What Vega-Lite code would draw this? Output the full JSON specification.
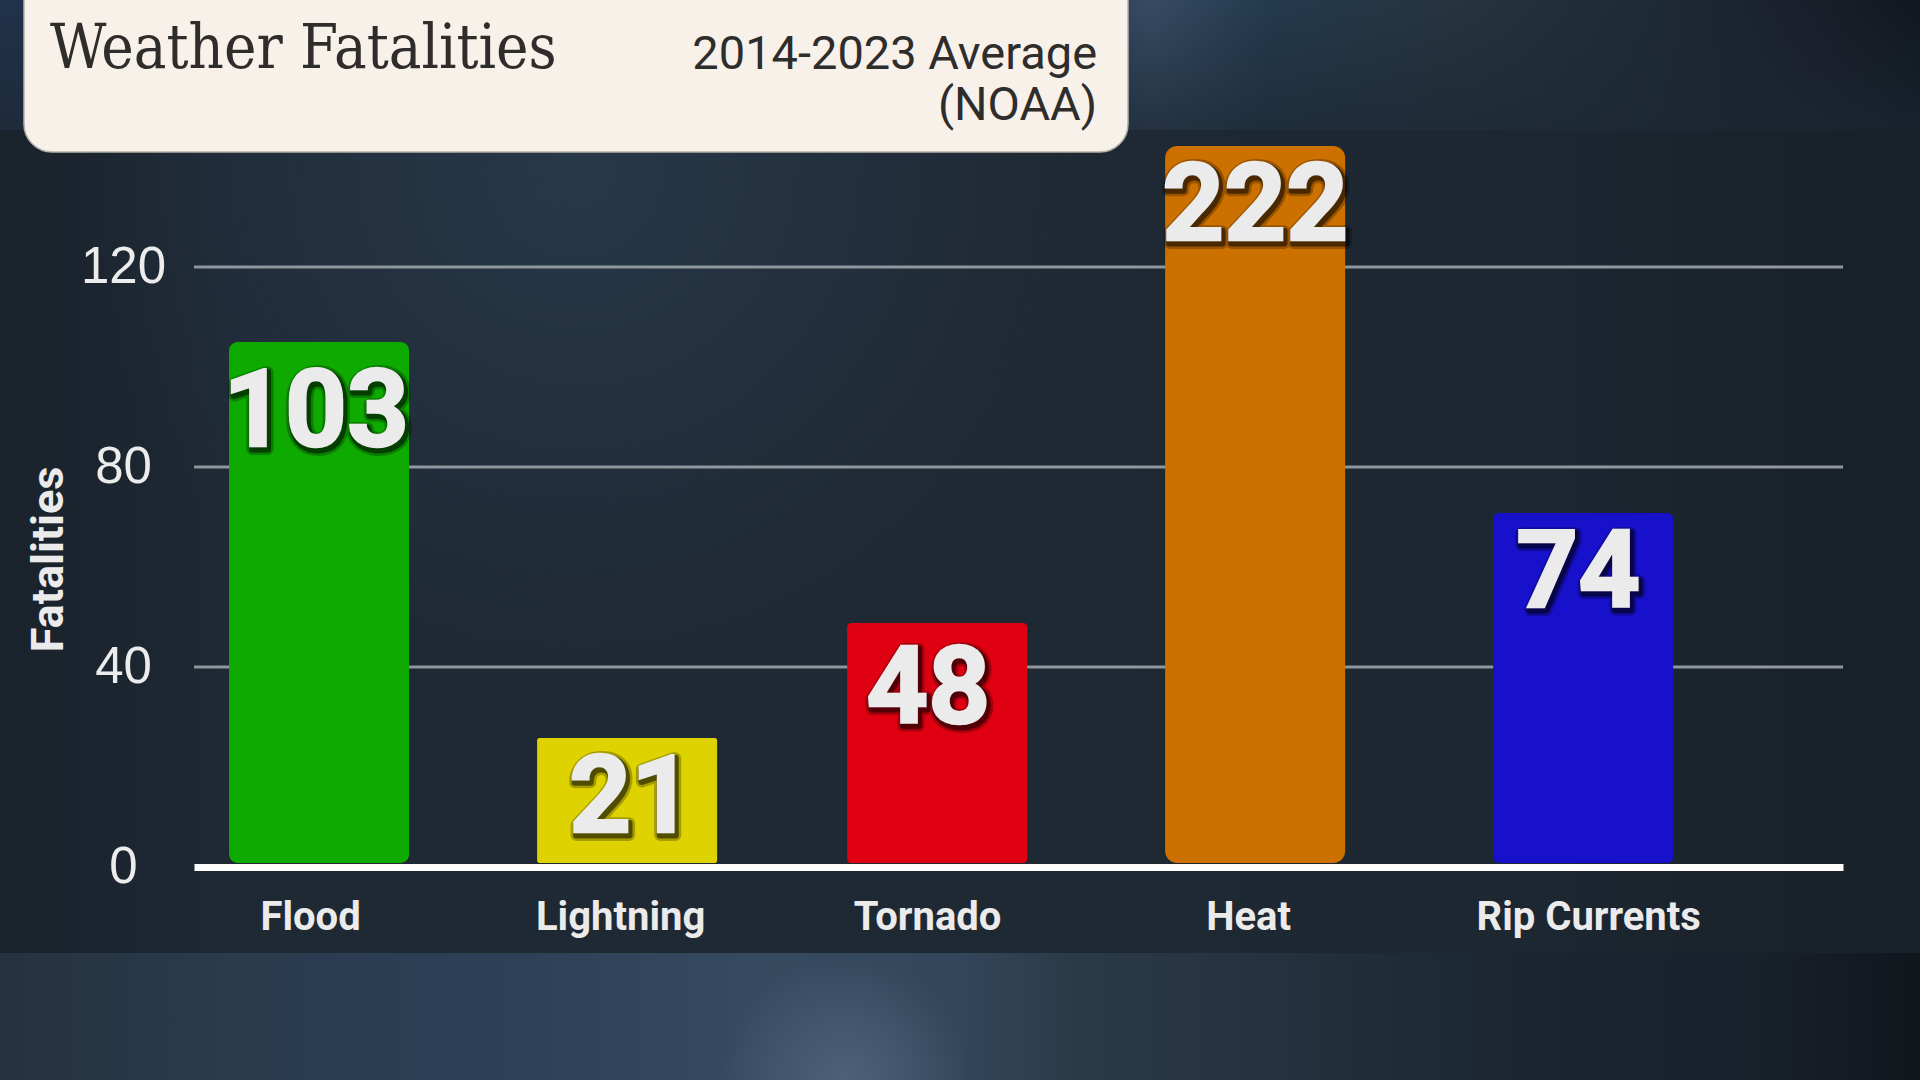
{
  "$schema": "https://vega.github.io/schema/vega-lite/v6.json",
  "width": 1649,
  "height": 721,
  "autosize": "none",
  "padding": {"left": 194, "top": 146, "right": 77, "bottom": 213},
  "background": "#1e2833",
  "layer": [
    {
      "data": {"values": [{}]},
      "encoding": {
        "x": {"datum": 0, "type": "quantitative", "axis": null, "scale": {"domain": [0.10104, 0.9599], "nice": false, "zero": false}},
        "x2": {"datum": 1},
        "y": {"datum": 173.4, "type": "quantitative", "axis": null, "scale": {"domain": [0, 144.2], "nice": false}}
      },
      "layer": [
        {
          "mark": {"type": "rect", "fill": {"gradient": "linear", "x1": 0, "x2": 1, "y1": 0, "y2": 0, "stops": [
            {"offset": 0, "color": "#20324a"},
            {"offset": 0.56, "color": "#2c4058"},
            {"offset": 0.6, "color": "#364b63"},
            {"offset": 0.66, "color": "#243a4e"},
            {"offset": 0.76, "color": "#26343f"},
            {"offset": 0.86, "color": "#1e2a36"},
            {"offset": 0.95, "color": "#191e29"},
            {"offset": 1, "color": "#10171e"}
          ]}},
          "encoding": {"y2": {"datum": 147.4}}
        },
        {
          "mark": {"type": "rect", "fill": {"gradient": "linear", "x1": 0, "x2": 0, "y1": 0, "y2": 1, "stops": [
            {"offset": 0, "color": "#1c273300"},
            {"offset": 1, "color": "#1c2733b0"}
          ]}},
          "encoding": {"y2": {"datum": 147.4}}
        },
        {
          "mark": {"type": "rect", "fill": {"gradient": "linear", "x1": 0, "x2": 1, "y1": 0, "y2": 0, "stops": [
            {"offset": 0, "color": "#1a222b"},
            {"offset": 0.12, "color": "#1e2934"},
            {"offset": 0.5, "color": "#1f2933"},
            {"offset": 0.8, "color": "#1d2731"},
            {"offset": 1, "color": "#182028"}
          ]}},
          "encoding": {"y": {"datum": 147.4}, "y2": {"datum": -17.2}}
        },
        {
          "mark": {"type": "rect", "fill": {"gradient": "radial", "x1": 0.5, "y1": 0.5, "r1": 0, "x2": 0.5, "y2": 0.5, "r2": 0.5, "stops": [
            {"offset": 0, "color": "#2c3f54b0"},
            {"offset": 0.6, "color": "#2c3f5440"},
            {"offset": 1, "color": "#2c3f5400"}
          ]}},
          "encoding": {
            "x": {"datum": 0.039, "type": "quantitative", "axis": null, "scale": {"domain": [0.10104, 0.9599], "nice": false, "zero": false}},
            "x2": {"datum": 0.5599},
            "y": {"datum": 240},
            "y2": {"datum": 40}
          }
        },
        {
          "mark": {"type": "rect", "fill": {"gradient": "linear", "x1": 0, "x2": 1, "y1": 0, "y2": 0, "stops": [
            {"offset": 0, "color": "#25323f"},
            {"offset": 0.12, "color": "#2a3b4d"},
            {"offset": 0.27, "color": "#2d4058"},
            {"offset": 0.4, "color": "#364a60"},
            {"offset": 0.5, "color": "#33465a"},
            {"offset": 0.56, "color": "#2b3a48"},
            {"offset": 0.64, "color": "#263441"},
            {"offset": 0.8, "color": "#1a2530"},
            {"offset": 0.92, "color": "#18202a"},
            {"offset": 1, "color": "#10161c"}
          ]}},
          "encoding": {"y": {"datum": -17.2}, "y2": {"datum": -42.6}}
        },
        {
          "mark": {"type": "rect", "fill": {"gradient": "radial", "x1": 0.5, "y1": 0.5, "r1": 0, "x2": 0.5, "y2": 0.5, "r2": 0.5, "stops": [
            {"offset": 0, "color": "#4c6179ff"},
            {"offset": 0.4, "color": "#4c6179a0"},
            {"offset": 1, "color": "#4c617900"}
          ]}},
          "encoding": {
            "x": {"datum": 0.375, "type": "quantitative", "axis": null, "scale": {"domain": [0.10104, 0.9599], "nice": false, "zero": false}},
            "x2": {"datum": 0.5052},
            "y": {"datum": -17.6},
            "y2": {"datum": -67.6}
          }
        },
        {
          "mark": {"type": "rect", "fill": "#f7f1ea", "stroke": "#b5b2ad", "strokeWidth": 1.5, "cornerRadius": 28},
          "encoding": {
            "x": {"datum": 0.0125, "type": "quantitative", "axis": null, "scale": {"domain": [0.10104, 0.9599], "nice": false, "zero": false}},
            "x2": {"datum": 0.5875},
            "y": {"datum": 180},
            "y2": {"datum": 143}
          }
        },
        {
          "mark": {"type": "text", "text": "Weather Fatalities", "align": "left", "baseline": "alphabetic", "font": "DejaVu Serif Condensed", "fontSize": 61, "fill": "#2f2d2b"},
          "encoding": {
            "x": {"datum": 0.026, "type": "quantitative", "axis": null, "scale": {"domain": [0.10104, 0.9599], "nice": false, "zero": false}},
            "x2": null,
            "y": {"datum": 159.8}
          }
        },
        {
          "mark": {"type": "text", "text": "2014-2023 Average", "align": "right", "baseline": "alphabetic", "font": "Roboto", "fontSize": 47, "fill": "#2f2d2b"},
          "encoding": {
            "x": {"datum": 0.5714, "type": "quantitative", "axis": null, "scale": {"domain": [0.10104, 0.9599], "nice": false, "zero": false}},
            "x2": null,
            "y": {"datum": 159.6}
          }
        },
        {
          "mark": {"type": "text", "text": "(NOAA)", "align": "right", "baseline": "alphabetic", "font": "Roboto", "fontSize": 47, "fill": "#2f2d2b"},
          "encoding": {
            "x": {"datum": 0.5714, "type": "quantitative", "axis": null, "scale": {"domain": [0.10104, 0.9599], "nice": false, "zero": false}},
            "x2": null,
            "y": {"datum": 149.4}
          }
        }
      ]
    },
    {
      "data": {"values": [
        {"hazard": "Flood", "fatalities": 103, "barTop": 105},
        {"hazard": "Lightning", "fatalities": 21, "barTop": 25.8},
        {"hazard": "Tornado", "fatalities": 48, "barTop": 48.8},
        {"hazard": "Heat", "fatalities": 222, "barTop": 144.2},
        {"hazard": "Rip Currents", "fatalities": 74, "barTop": 70.8}
      ]},
      "encoding": {
        "x": {
          "field": "hazard",
          "type": "nominal",
          "sort": null,
          "scale": {"type": "point", "padding": 0.609, "align": 0.325},
          "axis": {
            "title": null,
            "zindex": 1,
            "ticks": false,
            "domainColor": "#ffffff",
            "domainWidth": 7,
            "labelAngle": 0,
            "labelFont": "Roboto",
            "labelFontWeight": "bold",
            "labelFontSize": 40,
            "labelColor": "#ebebeb",
            "labelPadding": 30,
            "labelLimit": 400,
            "labelOffset": {"expr": "datum.value == 'Flood' ? -9 : datum.value == 'Lightning' ? -15 : datum.value == 'Tornado' ? -24 : datum.value == 'Heat' ? -19 : 5"}
          }
        },
        "y": {
          "field": "barTop",
          "type": "quantitative",
          "scale": {"domain": [0, 144.2], "nice": false},
          "axis": {
            "title": "Fatalities",
            "values": [0, 40, 80, 120],
            "zindex": 1,
            "domain": false,
            "ticks": false,
            "grid": false,
            "labelFont": "Liberation Sans",
            "labelFontSize": 51,
            "labelColor": "#ececec",
            "labelAlign": "center",
            "labelPadding": 71,
            "labelOverlap": false,
            "labelBound": false,
            "labelFlush": false,
            "titleFont": "Roboto",
            "titleFontWeight": "bold",
            "titleFontSize": 45,
            "titleColor": "#ebebeb",
            "titleX": -123,
            "titleY": 413
          }
        }
      },
      "layer": [
        {
          "data": {"values": [{"tick": 40}, {"tick": 80}, {"tick": 120}]},
          "mark": {"type": "rule", "color": "#8f969c", "strokeWidth": 3},
          "encoding": {
            "x": null,
            "y": {"field": "tick", "type": "quantitative", "scale": {"domain": [0, 144.2], "nice": false}}
          }
        },
        {
          "mark": {
            "type": "bar",
            "width": 180,
            "cornerRadius": {"expr": "datum.barTop / 12"},
            "xOffset": {"expr": "datum.hazard == 'Lightning' ? -8 : datum.hazard == 'Tornado' ? -14 : datum.hazard == 'Heat' ? -12 : 0"}
          },
          "encoding": {
            "y2": {"datum": 0.8},
            "color": {
              "field": "hazard",
              "type": "nominal",
              "legend": null,
              "scale": {
                "domain": ["Flood", "Lightning", "Tornado", "Heat", "Rip Currents"],
                "range": ["#0eaa00", "#ded300", "#df0012", "#cc7000", "#1811cc"]
              }
            }
          }
        },
        {
          "mark": {
            "type": "text", "baseline": "alphabetic", "font": "Roboto", "fontWeight": "bold", "fontSize": 108,
            "fill": "#000000", "stroke": "#000000", "strokeWidth": 12, "strokeJoin": "round", "opacity": 0.25,
            "dx": {"expr": "(datum.hazard == 'Flood' ? -3 : datum.hazard == 'Lightning' ? -4 : datum.hazard == 'Tornado' ? -23 : datum.hazard == 'Heat' ? -12 : -5) + 2"},
            "dy": {"expr": "(datum.hazard == 'Flood' ? 104 : datum.hazard == 'Tornado' ? 100 : 94) + 3"}
          },
          "encoding": {"text": {"field": "fatalities", "type": "quantitative"}}
        },
        {
          "mark": {
            "type": "text", "baseline": "alphabetic", "font": "Roboto", "fontWeight": "bold", "fontSize": 108,
            "fill": "#000000", "stroke": "#000000", "strokeWidth": 7, "strokeJoin": "round", "opacity": 0.5,
            "dx": {"expr": "(datum.hazard == 'Flood' ? -3 : datum.hazard == 'Lightning' ? -4 : datum.hazard == 'Tornado' ? -23 : datum.hazard == 'Heat' ? -12 : -5) + 2"},
            "dy": {"expr": "(datum.hazard == 'Flood' ? 104 : datum.hazard == 'Tornado' ? 100 : 94) + 3"}
          },
          "encoding": {"text": {"field": "fatalities", "type": "quantitative"}}
        },
        {
          "mark": {
            "type": "text", "baseline": "alphabetic", "font": "Roboto", "fontWeight": "bold", "fontSize": 108,
            "fill": "#ebebeb", "stroke": "#ebebeb", "strokeWidth": 2.5, "strokeJoin": "miter",
            "dx": {"expr": "datum.hazard == 'Flood' ? -3 : datum.hazard == 'Lightning' ? -4 : datum.hazard == 'Tornado' ? -23 : datum.hazard == 'Heat' ? -12 : -5"},
            "dy": {"expr": "datum.hazard == 'Flood' ? 104 : datum.hazard == 'Tornado' ? 100 : 94"}
          },
          "encoding": {"text": {"field": "fatalities", "type": "quantitative"}}
        }
      ]
    }
  ],
  "resolve": {"scale": {"x": "independent"}, "axis": {"y": "independent"}},
  "config": {"view": {"stroke": null}}
}
